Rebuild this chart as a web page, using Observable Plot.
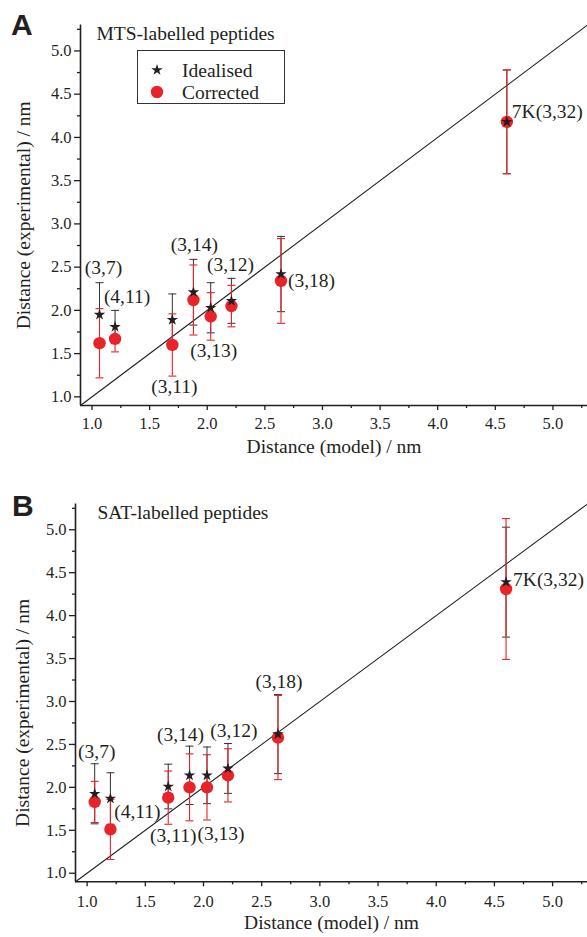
<!DOCTYPE html>
<html><head><meta charset="utf-8">
<script src="https://cdn.jsdelivr.net/npm/d3@7"></script>
<script src="https://cdn.jsdelivr.net/npm/@observablehq/plot@0.6"></script>
<style>
body{margin:0;background:#fff;}
#wrap{position:relative;width:587px;height:937px;background:#fff;}
.panel{position:absolute;left:0;}
.panel svg text{font-family:"Liberation Serif","Times New Roman",serif !important;}
#overlay{position:absolute;left:0;top:0;pointer-events:none;}
</style></head>
<body><div id="wrap"></div>
<script>
// ---- data ----
const models = [1.065, 1.20, 1.697, 1.88, 2.03, 2.21, 2.64, 4.60];
const labels = ["(3,7)", "(4,11)", "(3,11)", "(3,14)", "(3,13)", "(3,12)", "(3,18)", "7K(3,32)"];
const mtsIdeal    = [1.95, 1.81, 1.89, 2.21, 2.03, 2.11, 2.42, 4.18];
const mtsIdealErr = [0.37, 0.19, 0.30, 0.38, 0.29, 0.26, 0.435, 0.60];
const mtsCorr     = [1.62, 1.67, 1.60, 2.12, 1.93, 2.05, 2.34, 4.18];
const mtsCorrErr  = [0.40, 0.15, 0.36, 0.405, 0.275, 0.24, 0.49, 0.60];
const satIdeal    = [1.925, 1.87, 2.01, 2.14, 2.14, 2.22, 2.62, 4.39];
const satIdealErr = [0.35, 0.30, 0.26, 0.34, 0.33, 0.29, 0.46, 0.64];
const satCorr     = [1.83, 1.51, 1.88, 2.00, 2.00, 2.14, 2.58, 4.31];
const satCorrErr  = [0.24, 0.35, 0.31, 0.39, 0.38, 0.31, 0.49, 0.82];
const majorTicks = [1.0, 1.5, 2.0, 2.5, 3.0, 3.5, 4.0, 4.5, 5.0];
const minorTicks = [1.25, 1.75, 2.25, 2.75, 3.25, 3.75, 4.25, 4.75, 5.25];
const diagonal = [0.9, 5.3];
const xTitle = "Distance (model) / nm";
const yTitle = "Distance (experimental) / nm";
const seriesNames = ["Idealised", "Corrected"];

// ---- drawing ----
const RED = "#e8232a", INK = "#231f20";
const SERIF = "Liberation Serif, Times New Roman, serif";
const cap = {draw(ctx, size) { const w = Math.sqrt(size / Math.PI); ctx.moveTo(-w, 0); ctx.lineTo(w, 0); }};

function panel(cfg) {
  const rows = models.map((m, i) => ({x: m, label: labels[i], yi: cfg.ideal[i], ei: cfg.idealErr[i], yc: cfg.corr[i], ec: cfg.corrErr[i]}));
  const labelMarks = rows.map((r, i) => {
    const [dx, dy, anchor] = cfg.offsets[i];
    return Plot.text([r], {x: "x", y: "yi", text: "label", dx, dy, textAnchor: anchor || "middle", fontSize: 19.5, fontFamily: SERIF, fill: INK});
  });
  const axisFont = {fontFamily: SERIF, fontSize: 16.5};
  return Plot.plot({
    width: 587, height: cfg.height,
    marginTop: cfg.marginTop, marginBottom: cfg.marginBottom, marginLeft: cfg.marginLeft, marginRight: 0,
    style: {fontFamily: SERIF, fontSize: "16.5px", color: INK, background: "#fff", overflow: "visible"},
    x: {domain: [0.9, 5.3]},
    y: {domain: [0.9, 5.3]},
    marks: [
      Plot.axisX({ticks: majorTicks, tickSize: 5, tickPadding: cfg.xPad, tickFormat: d3.format(".1f"), label: null, strokeWidth: 1.3, ...axisFont}),
      Plot.axisX({ticks: minorTicks, tickSize: 3, tickFormat: () => "", label: null, strokeWidth: 1.3}),
      Plot.axisY({ticks: majorTicks, tickSize: 6, tickPadding: 3, tickFormat: d3.format(".1f"), label: null, strokeWidth: 1.3, ...axisFont}),
      Plot.axisY({ticks: minorTicks, tickSize: 3, tickFormat: () => "", label: null, strokeWidth: 1.3}),
      Plot.ruleX([0.9], {stroke: INK, strokeWidth: 1.6}),
      Plot.ruleY([0.9], {stroke: INK, strokeWidth: 1.6}),
      Plot.line(diagonal, {x: d => d, y: d => d, stroke: INK, strokeWidth: 1.1}),
      Plot.ruleX(rows, {x: "x", y1: d => d.yi - d.ei, y2: d => d.yi + d.ei, stroke: "#333", strokeWidth: 1}),
      Plot.dot(rows, {x: "x", y: d => d.yi + d.ei, symbol: cap, r: 4, stroke: "#333", fill: "none", strokeWidth: 1}),
      Plot.dot(rows, {x: "x", y: d => d.yi - d.ei, symbol: cap, r: 4, stroke: "#333", fill: "none", strokeWidth: 1}),
      Plot.ruleX(rows, {x: "x", y1: d => d.yc - d.ec, y2: d => d.yc + d.ec, stroke: RED, strokeWidth: 1.1}),
      Plot.dot(rows, {x: "x", y: d => d.yc + d.ec, symbol: cap, r: 4, stroke: RED, fill: "none", strokeWidth: 1.1}),
      Plot.dot(rows, {x: "x", y: d => d.yc - d.ec, symbol: cap, r: 4, stroke: RED, fill: "none", strokeWidth: 1.1}),
      Plot.dot(rows, {x: "x", y: "yc", r: 6.2, fill: RED, stroke: "none"}),
      Plot.dot(rows, {x: "x", y: "yi", symbol: "star", r: 3.6, fill: INK, stroke: "none"}),
      ...labelMarks,
      Plot.text([xTitle], {frameAnchor: "bottom", textAnchor: "middle", dy: 47, fontSize: 19.5, fontFamily: SERIF, fill: INK}),
      Plot.text([yTitle], {frameAnchor: "left", textAnchor: "middle", rotate: -90, dx: cfg.yTitleDx, dy: cfg.yTitleDy, fontSize: 19.5, fontFamily: SERIF, fill: INK}),
      Plot.text([cfg.title], {frameAnchor: "top-left", textAnchor: "start", dx: cfg.titleDx, dy: 1.5, fontSize: 19.5, fontFamily: SERIF, fill: INK})
    ]
  });
}

const wrap = document.getElementById("wrap");
const A = panel({
  ideal: mtsIdeal, idealErr: mtsIdealErr, corr: mtsCorr, corrErr: mtsCorrErr,
  title: "MTS-labelled peptides", titleDx: 16,
  height: 465, marginTop: 24.5, marginBottom: 60, marginLeft: 80, xPad: 7,
  yTitleDx: -57, yTitleDy: 0,
  offsets: [[4, -47], [12, -30], [2, 67], [1, -47], [3, 43], [-1, -36], [7, 7, "start"], [5, -10, "start"]]
});
const B = panel({
  ideal: satIdeal, idealErr: satIdealErr, corr: satCorr, corrErr: satCorrErr,
  title: "SAT-labelled peptides", titleDx: 22,
  height: 472, marginTop: 38.5, marginBottom: 55.7, marginLeft: 75, xPad: 8,
  yTitleDx: -52.5, yTitleDy: 20,
  offsets: [[2, -42], [27, 13], [5, 49], [-9, -41], [14, 58], [6, -38], [1, -52], [7, -2, "start"]]
});
const dA = document.createElement("div"); dA.className = "panel"; dA.style.top = "0px"; dA.appendChild(A);
const dB = document.createElement("div"); dB.className = "panel"; dB.style.top = "465px"; dB.appendChild(B);
wrap.appendChild(dA); wrap.appendChild(dB);

// overlay: panel letters and legend
const ov = d3.select(wrap).append("svg").attr("id", "overlay").attr("width", 587).attr("height", 937);
ov.append("text").attr("x", 11).attr("y", 35).text("A")
  .attr("font-family", "Liberation Sans, Arial, sans-serif").attr("font-weight", "bold").attr("font-size", 30).attr("fill", INK);
ov.append("text").attr("x", 12).attr("y", 516).text("B")
  .attr("font-family", "Liberation Sans, Arial, sans-serif").attr("font-weight", "bold").attr("font-size", 30).attr("fill", INK);
const lg = ov.append("g");
lg.append("rect").attr("x", 137.5).attr("y", 50.5).attr("width", 147).attr("height", 53).attr("fill", "#fff").attr("stroke", "#333").attr("stroke-width", 1);
lg.append("path").attr("d", d3.symbol(d3.symbolStar, Math.PI * 3.6 * 3.6)()).attr("transform", "translate(157,70)").attr("fill", INK);
lg.append("circle").attr("cx", 157).attr("cy", 92).attr("r", 6.2).attr("fill", RED);
seriesNames.forEach((s, i) => {
  lg.append("text").attr("x", 182).attr("y", 70 + 22 * i).attr("dy", "0.35em").text(s)
    .attr("font-family", SERIF).attr("font-size", 19.5).attr("fill", INK);
});
</script>
</body></html>
